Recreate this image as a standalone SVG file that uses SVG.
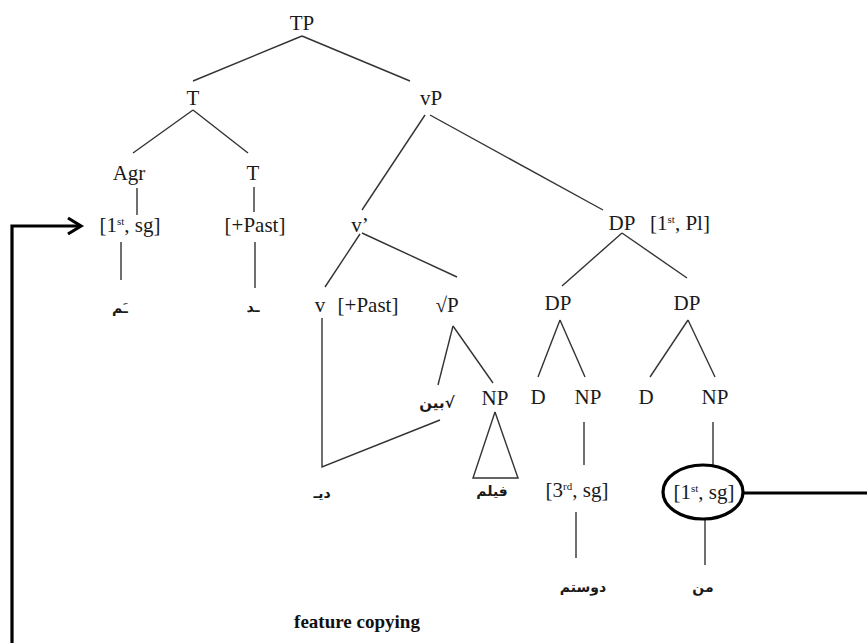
<svg xmlns="http://www.w3.org/2000/svg" width="867" height="643" viewBox="0 0 867 643">
<style>
.t{font-family:"Liberation Serif","Times New Roman",serif;font-size:21px;fill:#1a1a1a;text-anchor:middle}
.sup{font-size:11px}
.ar{font-family:"DejaVu Sans",sans-serif;font-size:14px;font-weight:bold;fill:#1a1a1a;text-anchor:middle}
.b{font-family:"Liberation Serif","Times New Roman",serif;font-size:19px;font-weight:bold;fill:#111;text-anchor:middle}
.e line,.e polyline{stroke:#333;stroke-width:1.4;fill:none}
.e .thick{stroke:#000;stroke-width:3.2;fill:none}
</style>
<rect width="867" height="643" fill="#fff"/>
<g id="connectors" class="e">
<line x1="302" y1="36" x2="193" y2="81"/>
<line x1="302" y1="36" x2="410" y2="81"/>
<line x1="193" y1="110" x2="133" y2="153"/>
<line x1="193" y1="110" x2="248" y2="153"/>
<line x1="137" y1="188" x2="137" y2="215"/>
<line x1="254" y1="187" x2="254" y2="212"/>
<line x1="121" y1="242" x2="121" y2="280"/>
<line x1="255" y1="242" x2="255" y2="288"/>
<line x1="425" y1="115" x2="362" y2="210"/>
<line x1="430" y1="115" x2="603" y2="210"/>
<line x1="360" y1="234" x2="325" y2="287"/>
<line x1="362" y1="233" x2="457" y2="277"/>
<polyline points="322,318 322,467 440,420"/>
<line x1="453" y1="326" x2="438" y2="385"/>
<line x1="453" y1="326" x2="493" y2="383"/>
<polyline points="495,412 473,478 518,478 495,412"/>
<line x1="622" y1="233" x2="562" y2="286"/>
<line x1="622" y1="233" x2="687" y2="278"/>
<line x1="560" y1="320" x2="538" y2="377"/>
<line x1="560" y1="320" x2="585" y2="377"/>
<line x1="688" y1="320" x2="650" y2="377"/>
<line x1="688" y1="320" x2="715" y2="377"/>
<line x1="584" y1="422" x2="584" y2="465"/>
<line x1="576" y1="512" x2="576" y2="558"/>
<line x1="713" y1="422" x2="713" y2="465"/>
<line x1="705" y1="519" x2="705" y2="565"/>
<line class="thick" x1="743" y1="493" x2="867" y2="493"/>
<polyline class="thick" points="12,643 12,226 80,226"/>
<polyline class="thick" points="68,218 81,226 68,234"/>
</g>
<g id="n-TP"><text class="t" x="302" y="30">TP</text></g>
<g id="n-T1"><text class="t" x="193" y="105">T</text></g>
<g id="n-vP"><text class="t" x="431" y="105">vP</text></g>
<g id="n-Agr"><text class="t" x="129" y="180">Agr</text></g>
<g id="n-T2"><text class="t" x="253" y="180">T</text></g>
<g id="n-agr-feat"><text class="t" x="130" y="232">[1<tspan class="sup" dy="-7">st</tspan><tspan dy="7">, sg]</tspan></text></g>
<g id="n-past1"><text class="t" x="255" y="232">[+Past]</text></g>
<g id="n-vbar"><text class="t" x="360" y="232">v’</text></g>
<g id="n-DP"><text class="t" x="622" y="230">DP</text><text class="t" x="680" y="230">[1<tspan class="sup" dy="-7">st</tspan><tspan dy="7">, Pl]</tspan></text></g>
<g id="n-v"><text class="t" x="320" y="312">v</text></g>
<g id="n-past2"><text class="t" x="368" y="312">[+Past]</text></g>
<g id="n-rootP"><text class="t" x="447" y="312">√P</text></g>
<g id="n-DP1"><text class="t" x="558" y="310">DP</text></g>
<g id="n-DP2"><text class="t" x="687" y="310">DP</text></g>
<g id="n-root"><text class="ar" x="437" y="408" style="font-size:15px">بین√</text></g>
<g id="n-NP1"><text class="t" x="495" y="405">NP</text></g>
<g id="n-D1"><text class="t" x="538" y="404">D</text></g>
<g id="n-NP2"><text class="t" x="588" y="404">NP</text></g>
<g id="n-D2"><text class="t" x="646" y="404">D</text></g>
<g id="n-NP3"><text class="t" x="715" y="404">NP</text></g>
<g id="n-am"><text class="ar" x="120" y="313">ـَم</text></g>
<g id="n-ad"><text class="ar" x="253" y="312">ـد</text></g>
<g id="n-di"><text class="ar" x="322" y="498">دیـ</text></g>
<g id="n-film"><text class="ar" x="492" y="496">فیلم</text></g>
<g id="n-3sg"><text class="t" x="577" y="497">[3<tspan class="sup" dy="-7">rd</tspan><tspan dy="7">, sg]</tspan></text></g>
<g id="n-1sg"><ellipse cx="703" cy="492" rx="40" ry="27" fill="none" stroke="#000" stroke-width="3.2"/><text class="t" x="704" y="499">[1<tspan class="sup" dy="-7">st</tspan><tspan dy="7">, sg]</tspan></text></g>
<g id="n-doostam"><text class="ar" x="583" y="592">دوستم</text></g>
<g id="n-man"><text class="ar" x="703" y="592">من</text></g>
<g id="label"><text class="b" x="357" y="628">feature copying</text></g>
</svg>
